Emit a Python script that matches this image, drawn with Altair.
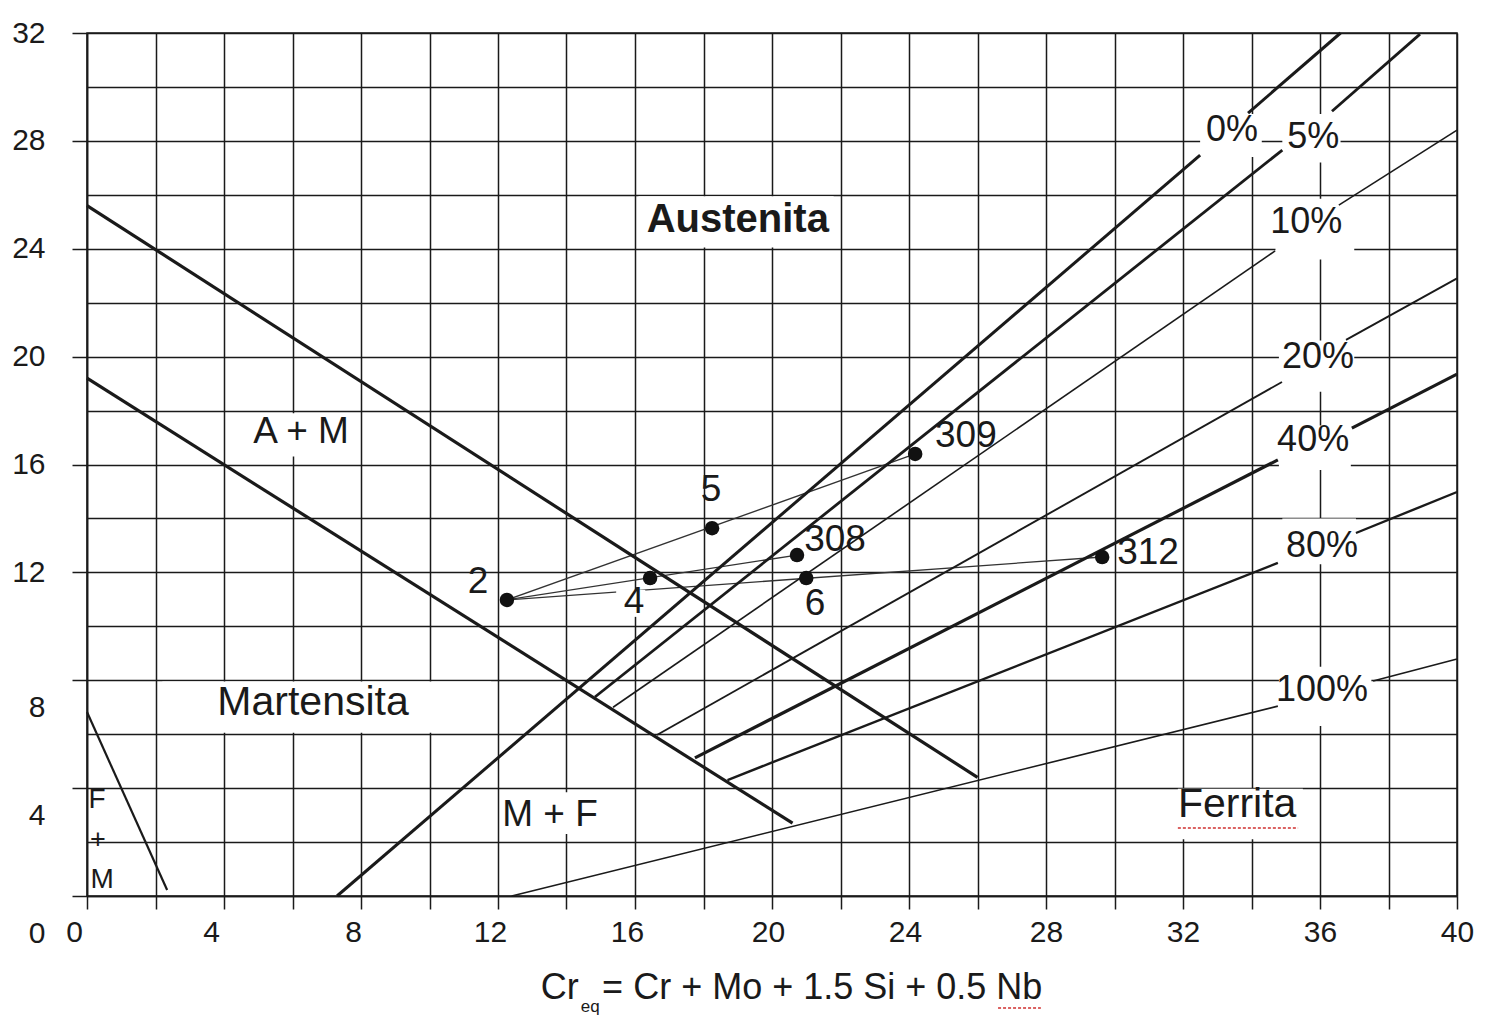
import altair as alt
import pandas as pd

# ---------------- values (Cr_eq, Ni_eq) ----------------
x_ticks = list(range(0, 41, 2))
y_ticks = list(range(0, 33, 2))

point_names = ["2", "4", "5", "6", "308", "309", "312"]
point_cr = [12.26, 16.44, 18.25, 21.00, 20.73, 24.18, 29.64]
point_ni = [10.98, 11.79, 13.64, 11.79, 12.64, 16.39, 12.57]
point_label_cr = [11.42, 15.97, 18.22, 21.26, 21.84, 25.66, 30.98]
point_label_ni = [11.64, 10.90, 15.05, 10.83, 13.20, 17.06, 12.72]

# dilution lines: base metal "2" towards each filler metal
tie_from = ["2", "2", "2"]
tie_to = ["309", "308", "312"]

# phase boundaries and iso-ferrite lines (segments, broken at their labels)
seg_name = ["A/A+M", "A+M/M", "F+M",
            "0%", "0%", "5%", "5%", "10%", "10%", "20%", "20%",
            "40%", "40%", "80%", "80%", "100%", "100%"]
seg_cr1 = [0.0, 0.0, 0.0, 7.30, 33.90, 14.83, 36.35, 15.36, 36.55, 16.64, 36.76,
           17.75, 36.93, 18.70, 37.05, 12.40, 37.55]
seg_ni1 = [25.6, 19.2, 6.82, 0.0, 29.03, 7.38, 29.10, 7.00, 25.62, 5.97, 20.62,
           5.12, 17.35, 4.30, 13.46, 0.0, 7.97]
seg_cr2 = [26.0, 20.6, 2.34, 32.50, 36.60, 34.90, 38.92, 34.69, 40.0, 34.89, 40.0,
           34.77, 40.0, 34.77, 40.0, 34.77, 40.0]
seg_ni2 = [4.4, 2.7, 0.22, 27.47, 32.0, 27.66, 31.96, 23.92, 28.40, 19.06, 22.90,
           16.17, 19.35, 12.35, 14.98, 7.04, 8.79]

pct_labels = ["0%", "5%", "10%", "20%", "40%", "80%", "100%"]
pct_cr = [33.43, 35.80, 35.60, 35.94, 35.80, 36.06, 36.06]
pct_ni = [28.40, 28.14, 24.99, 19.98, 16.90, 12.98, 7.64]

region_labels = ["Austenita", "A + M", "Martensita", "M + F", "Ferrita", "F", "+", "M"]
region_cr = [19.0, 6.25, 6.6, 13.52, 33.58, 0.29, 0.32, 0.44]
region_ni = [25.07, 17.2, 7.16, 3.0, 3.37, 3.56, 2.08, 0.59]

# white backgrounds behind labels (they break the grid)
box_for = ["Austenita", "A + M", "Martensita", "M + F", "Ferrita", "4",
           "0%", "5%", "10%", "20%", "40%", "80%", "100%"]
box_cr1 = [16.1, 4.6, 2.2, 12.3, 31.85, 15.45, 32.5, 34.9, 34.7, 34.8, 34.8, 34.9, 34.8]
box_cr2 = [21.8, 7.95, 11.8, 14.9, 35.5, 16.3, 34.3, 36.6, 37.0, 37.0, 36.9, 37.05, 37.5]
box_ni1 = [24.05, 16.3, 6.05, 2.3, 2.1, 10.35, 27.4, 27.2, 23.6, 18.7, 15.8, 12.3, 6.3]
box_ni2 = [25.95, 17.9, 7.95, 3.85, 3.98, 11.35, 29.0, 29.0, 25.85, 20.6, 17.45, 14.0, 8.5]

# x-axis title pieces (Cr_eq = ...)
title_text = ["Cr", "eq", "= Cr + Mo + 1.5 Si + 0.5 Nb"]
title_cr = [14.36, 14.69, 15.04]
title_ni = [-3.41, -4.12, -3.41]

# red spell-check underline under "Ferrita" and "Nb"
spell_cr1 = [31.85, 26.60]
spell_cr2 = [35.36, 27.85]
spell_ni = [2.52, -4.15]

# ---------------- styles ----------------
INK = "#1a1a1a"
FONT = "Liberation Sans, Arial, sans-serif"
line_width = {"A/A+M": 3.2, "A+M/M": 3.2, "F+M": 2.2, "0%": 3.0, "5%": 2.8,
              "10%": 1.6, "20%": 1.9, "40%": 3.2, "80%": 2.4, "100%": 1.6}
region_style = {"Austenita": (40, "bold"), "A + M": (37, "normal"),
                "Martensita": (41, "normal"), "M + F": (37, "normal"),
                "Ferrita": (41, "normal"), "F": (28, "normal"),
                "+": (27, "normal"), "M": (28, "normal")}

# ---------------- tables ----------------
pts = pd.DataFrame({"name": point_names, "cr": point_cr, "ni": point_ni,
                    "lcr": point_label_cr, "lni": point_label_ni})
pidx = pts.set_index("name")
ties = pd.DataFrame({
    "cr1": [pidx.loc[a, "cr"] for a in tie_from],
    "ni1": [pidx.loc[a, "ni"] for a in tie_from],
    "cr2": [pidx.loc[b, "cr"] for b in tie_to],
    "ni2": [pidx.loc[b, "ni"] for b in tie_to],
})
segs = pd.DataFrame({"name": seg_name, "cr1": seg_cr1, "ni1": seg_ni1,
                     "cr2": seg_cr2, "ni2": seg_ni2})
segs["w"] = segs["name"].map(line_width)
pcts = pd.DataFrame({"label": pct_labels, "cr": pct_cr, "ni": pct_ni})
boxes = pd.DataFrame({"for": box_for, "cr1": box_cr1, "cr2": box_cr2,
                      "ni1": box_ni1, "ni2": box_ni2})
spell = pd.DataFrame({"cr1": spell_cr1, "cr2": spell_cr2, "ni": spell_ni})

# ---------------- scales & axes ----------------
xsc = alt.Scale(domain=[0, 40], nice=False, zero=False)
ysc = alt.Scale(domain=[0, 32], nice=False, zero=False)

xaxis = alt.Axis(
    values=x_ticks, grid=True, gridColor=INK, gridWidth=1.5,
    domain=True, domainColor=INK, domainWidth=1.6,
    ticks=True, tickSize=13, tickColor=INK, tickWidth=1.5,
    labelExpr="datum.value % 4 == 0 ? datum.label : ''",
    labelFont=FONT, labelFontSize=30, labelColor=INK, labelPadding=8,
    labelFlush=False, labelOverlap=False, labelBound=False,
    labelOffset={"condition": [{"test": "datum.value <= 4", "value": -13},
                               {"test": "datum.value <= 16", "value": -8},
                               {"test": "datum.value <= 24", "value": -4}],
                 "value": 0},
)
yaxis = alt.Axis(
    values=y_ticks, grid=True, gridColor=INK, gridWidth=1.5,
    domain=True, domainColor=INK, domainWidth=1.6,
    ticks=True, tickSize=15, tickColor=INK, tickWidth=1.5,
    tickOpacity={"condition": {"test": "datum.value % 4 == 0", "value": 1}, "value": 0},
    labelExpr="datum.value % 4 == 0 ? datum.label : ''",
    labelFont=FONT, labelFontSize=30, labelColor=INK, labelPadding=27,
    labelFlush=False, labelOverlap=False, labelBound=False,
    labelOffset={"condition": [{"test": "datum.value == 0", "value": 37},
                               {"test": "datum.value <= 8", "value": 27}],
                 "value": 0},
)


def X(f):
    return alt.X(f, type="quantitative", scale=xsc, axis=xaxis, title=None)


def Y(f):
    return alt.Y(f, type="quantitative", scale=ysc, axis=yaxis, title=None)


tie_layer = alt.Chart(ties).mark_rule(color="#333333", strokeWidth=1.3).encode(
    x=X("cr1"), y=Y("ni1"), x2="cr2", y2="ni2")

box_layer = alt.Chart(boxes).mark_rect(fill="white", stroke="white", strokeWidth=0).encode(
    x=X("cr1"), x2="cr2", y=Y("ni1"), y2="ni2")

seg_layer = alt.Chart(segs).mark_rule(color=INK).encode(
    x=X("cr1"), y=Y("ni1"), x2="cr2", y2="ni2",
    size=alt.Size("w:Q", scale=None, legend=None))

dot_layer = alt.Chart(pts).mark_circle(size=210, color="#111111", opacity=1).encode(
    x=X("cr"), y=Y("ni"))

pt_text = alt.Chart(pts).mark_text(font=FONT, fontSize=37, color=INK,
                                   align="center", baseline="middle").encode(
    x=X("lcr"), y=Y("lni"), text="name:N")

pct_text = alt.Chart(pcts).mark_text(font=FONT, fontSize=36, color=INK,
                                     align="center", baseline="middle").encode(
    x=X("cr"), y=Y("ni"), text="label:N")

region_layers = []
for lab, c, n in zip(region_labels, region_cr, region_ni):
    fs, fw = region_style[lab]
    region_layers.append(
        alt.Chart(pd.DataFrame({"label": [lab], "cr": [c], "ni": [n]})).mark_text(
            font=FONT, fontSize=fs, fontWeight=fw, color=INK,
            align="center", baseline="middle").encode(
            x=X("cr"), y=Y("ni"), text="label:N"))

title_align = ["right", "center", "left"]
title_size = [36, 17, 36]
title_layers = []
for t, c, n, a, s in zip(title_text, title_cr, title_ni, title_align, title_size):
    title_layers.append(
        alt.Chart(pd.DataFrame({"label": [t], "cr": [c], "ni": [n]})).mark_text(
            font=FONT, fontSize=s, color=INK, align=a, baseline="middle").encode(
            x=X("cr"), y=Y("ni"), text="label:N"))

spell_layer = alt.Chart(spell).mark_rule(color="#d03030", strokeWidth=1.5,
                                         strokeDash=[3, 2]).encode(
    x=X("cr1"), x2="cr2", y=Y("ni"))

chart = alt.layer(
    tie_layer, box_layer, seg_layer, dot_layer, pt_text, pct_text,
    *region_layers, *title_layers, spell_layer
).properties(
    width=1370, height=863,
    autosize=alt.AutoSizeParams(type="none"),
    padding={"left": 79, "top": 25, "right": 20, "bottom": 120},
    background="white",
).configure_view(stroke=INK, strokeWidth=1.5)

chart.save("out.html", embed_options={"renderer": "svg", "actions": False})
